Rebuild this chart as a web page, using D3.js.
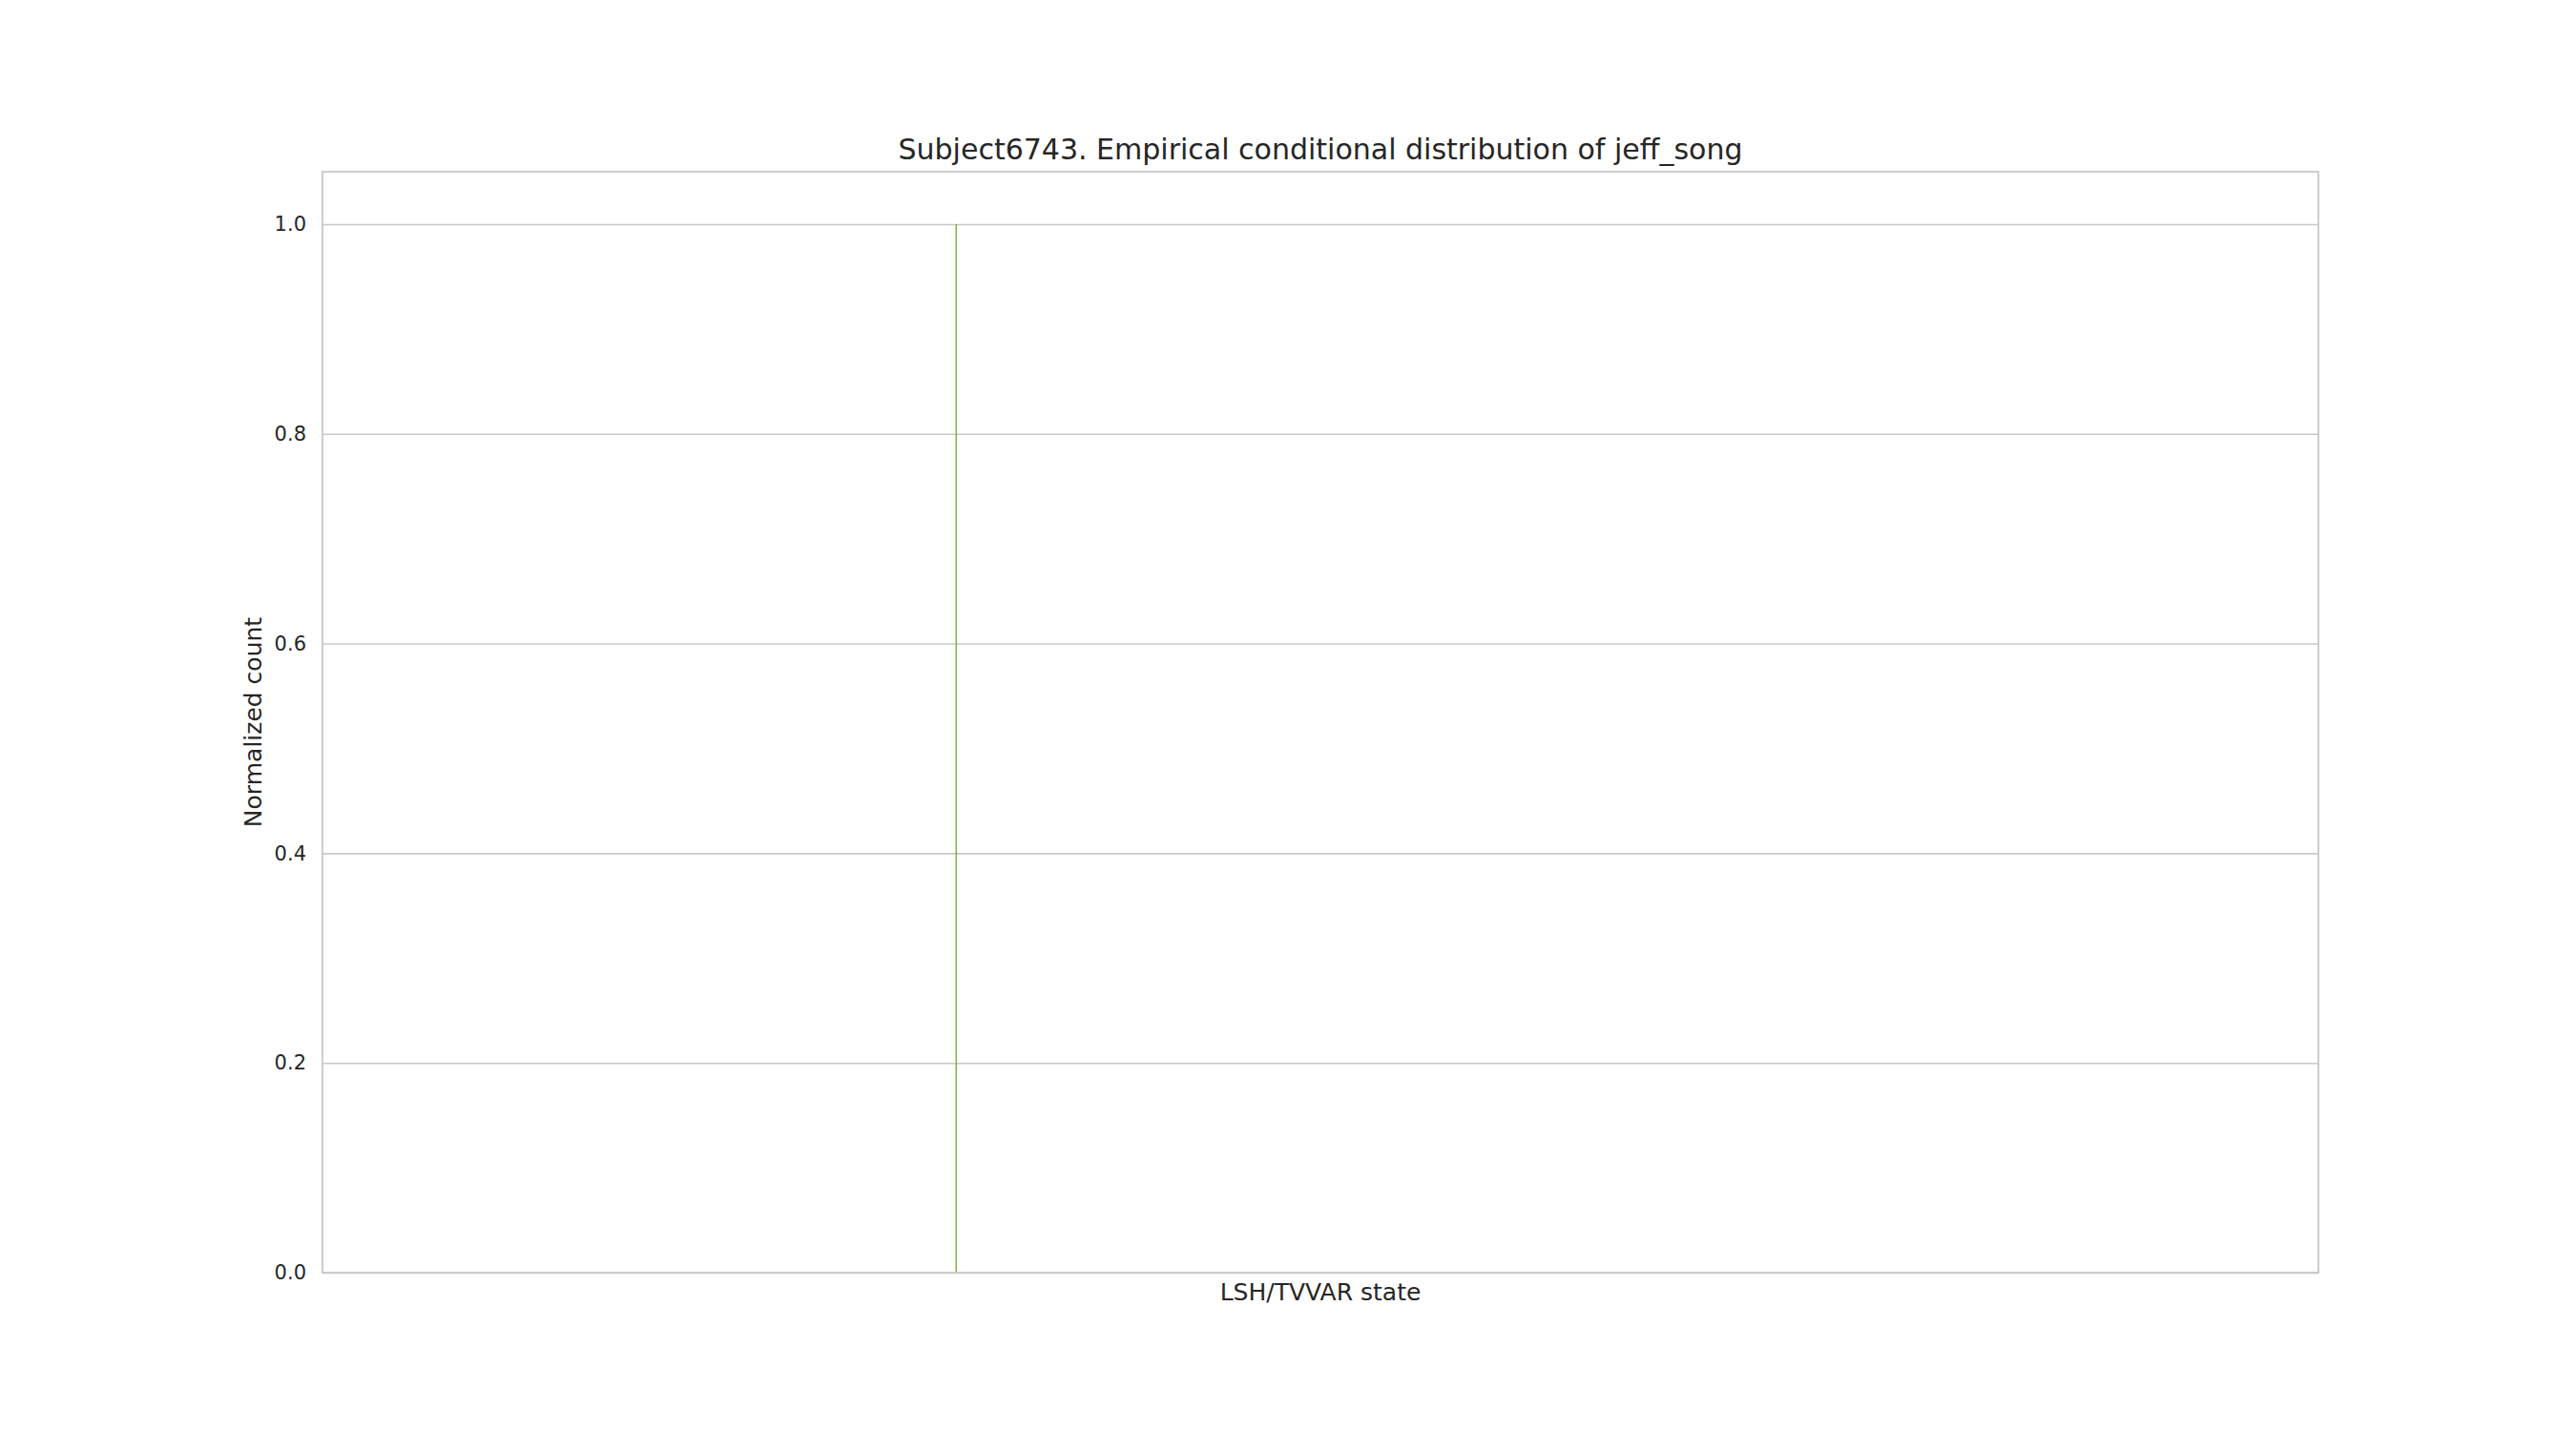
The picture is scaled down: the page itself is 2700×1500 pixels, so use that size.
<!DOCTYPE html>
<html>
<head>
<meta charset="utf-8">
<script src="https://cdn.jsdelivr.net/npm/d3@7"></script>
<style>
  html, body { margin: 0; padding: 0; background: #fff; }
  text { font-family: "DejaVu Sans", sans-serif; fill: #262626; }
</style>
</head>
<body>
<script>
// Data
const states = [0.3175];          // position of the single observed state on the x axis
const counts = [1.0];             // normalized count for that state
const yTicks = [0.0, 0.2, 0.4, 0.6, 0.8, 1.0];
const titleText = "Subject6743. Empirical conditional distribution of jeff_song";
const xLabel = "LSH/TVVAR state";
const yLabel = "Normalized count";

const W = 2700, H = 1500;
const margin = { left: 338, right: W - 2430, top: 180, bottom: H - 1334 };
const pw = W - margin.left - margin.right;
const ph = H - margin.top - margin.bottom;

const svg = d3.select("body").append("svg")
  .attr("width", W).attr("height", H);

const x = d3.scaleLinear().domain([0, 1]).range([0, pw]);
const y = d3.scaleLinear().domain([0, 1.05]).range([ph, 0]);

const g = svg.append("g").attr("transform", `translate(${margin.left},${margin.top})`);

// grid
const yAxis = d3.axisLeft(y).tickValues(yTicks).tickFormat(d3.format(".1f"))
  .tickSize(-pw).tickPadding(17);
const ya = g.append("g").call(yAxis);
ya.select(".domain").remove();
ya.selectAll(".tick line").attr("stroke", "#c8c8c8").attr("stroke-width", 1.6);
ya.selectAll(".tick text").attr("font-size", 21).style("fill", "#262626")
  .attr("font-family", "DejaVu Sans");

// marks
g.selectAll(".stem").data(states.map((s, i) => ({ s, c: counts[i] })))
  .join("line")
  .attr("x1", d => x(d.s)).attr("x2", d => x(d.s))
  .attr("y1", y(0)).attr("y2", d => y(d.c))
  .attr("stroke", "#6ab33c").attr("stroke-width", 1.4);

// frame
g.append("rect").attr("x", 0).attr("y", 0).attr("width", pw).attr("height", ph)
  .attr("fill", "none").attr("stroke", "#c8c8c8").attr("stroke-width", 1.8);

// title
svg.append("text").attr("x", margin.left + pw / 2).attr("y", 167)
  .attr("text-anchor", "middle").attr("font-size", 30).text(titleText);

// x label
svg.append("text").attr("x", margin.left + pw / 2).attr("y", 1363)
  .attr("text-anchor", "middle").attr("font-size", 25).text(xLabel);

// y label
svg.append("text")
  .attr("transform", `translate(274,${margin.top + ph / 2}) rotate(-90)`)
  .attr("text-anchor", "middle").attr("font-size", 25).text(yLabel);
</script>
</body>
</html>
